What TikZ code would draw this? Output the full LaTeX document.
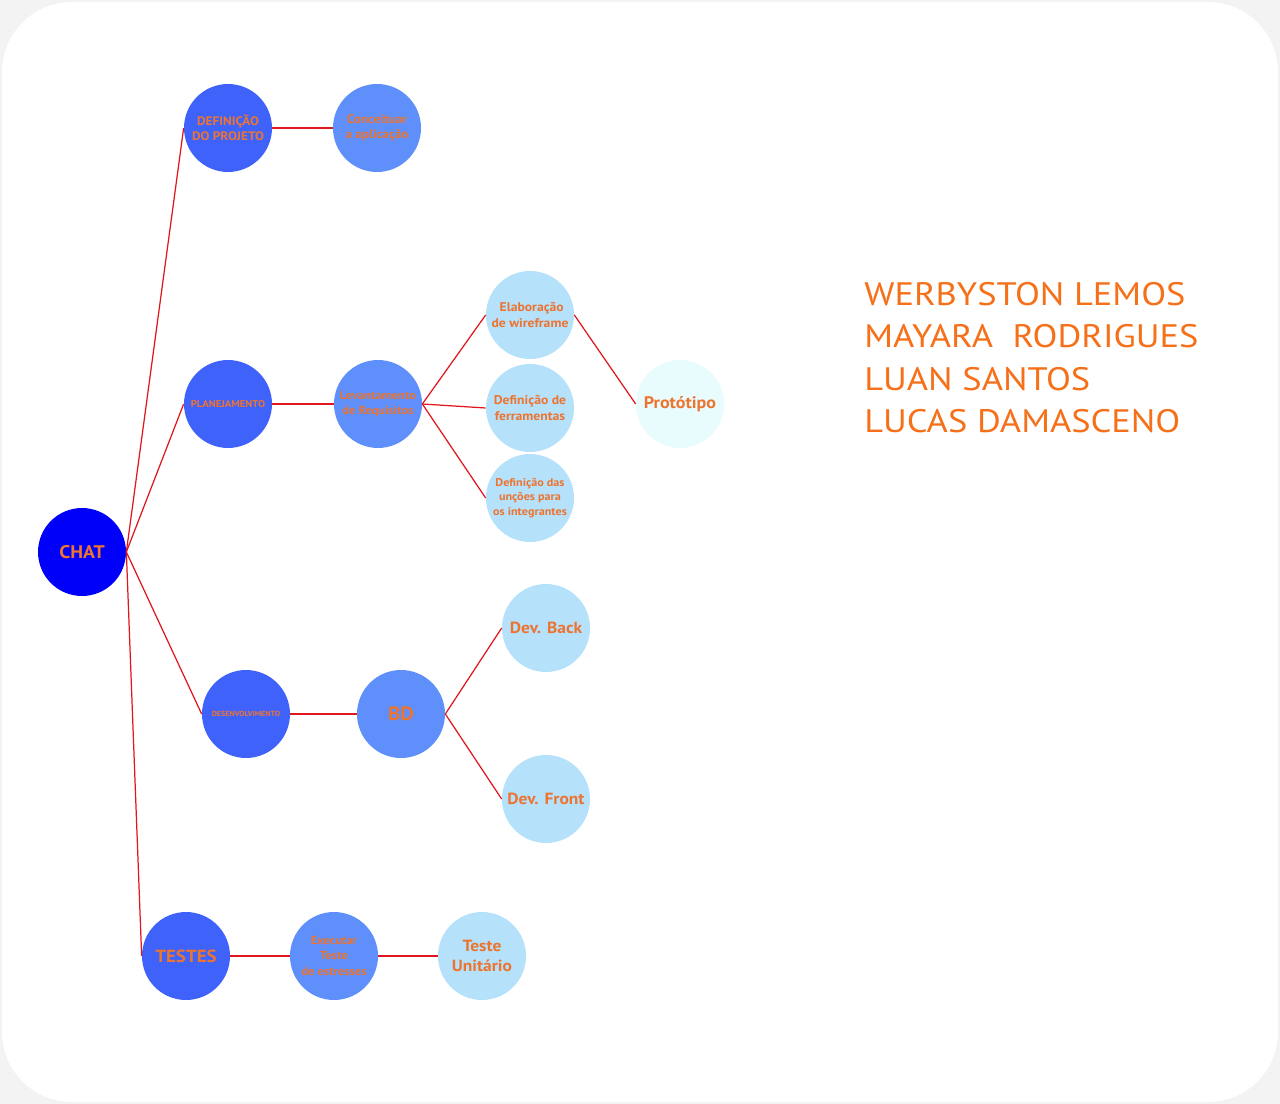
\documentclass[tikz,border=0pt]{standalone}
\usepackage{fontspec}
\setmainfont[FakeStretch=1.08]{PT Sans}
\newfontfamily\namefont[FakeStretch=1.12]{PT Sans}
\definecolor{bggray}{HTML}{F3F3F3}
\definecolor{cchat}{HTML}{0000FA}
\definecolor{cone}{HTML}{3F62FB}
\definecolor{ctwo}{HTML}{5E8FFB}
\definecolor{cthree}{HTML}{B5E1FB}
\definecolor{cfour}{HTML}{E9FCFD}
\definecolor{ctxt}{HTML}{EC7430}
\definecolor{cname}{HTML}{F57018}
\definecolor{cline}{HTML}{E0161E}
\tikzset{
  x=0.02cm, y=-0.02cm,
  bubble/.style={circle, minimum size=1.76cm, inner sep=0pt, text=ctxt, align=center},
  lvzero/.style={bubble, fill=cchat},
  lvone/.style={bubble, fill=cone},
  lvtwo/.style={bubble, fill=ctwo},
  lvthree/.style={bubble, fill=cthree},
  lvfour/.style={bubble, fill=cfour},
  link/.style={draw=cline, line width=0.7pt},
}
\newcommand{\bsize}[2]{\bfseries\fontsize{#1}{#2}\selectfont}
\begin{document}
\begin{tikzpicture}
\useasboundingbox (0,0) rectangle (1280,1104);
\fill[bggray] (0,0) rectangle (1280,1104);
\fill[white, rounded corners=1.4cm] (2,2) rectangle (1278,1102);

\node[lvzero, font=\bsize{10.4pt}{12pt}] (chat) at (82,552) {CHAT};

\node[lvone, font=\bsize{7pt}{8.5pt}] (def) at (228,128) {DEFINIÇÃO\\DO PROJETO};
\node[lvtwo, font=\bsize{7pt}{8.5pt}] (conc) at (377,128) {Conceituar\\a aplicação};

\node[lvone, font=\bsize{5.6pt}{7pt}] (plan) at (228,404) {PLANEJAMENTO};
\node[lvtwo, font=\bsize{6.6pt}{8.3pt}] (lev) at (378,404) {Levantamento\\de Requisitos};
\node[lvthree, font=\bsize{7.2pt}{8.6pt}] (elab) at (530,315) {\ Elaboração\\de wireframe};
\node[lvthree, font=\bsize{7.2pt}{8.8pt}] (ferr) at (530,408) {Definição de\\ferramentas};
\node[lvthree, font=\bsize{6.4pt}{8.2pt}] (func) at (530,498) {Definição das\\unções para\\os integrantes};
\node[lvfour, font=\bsize{9.5pt}{11pt}] (prot) at (680,404) {Protótipo};

\node[lvone, font=\bsize{4.2pt}{5pt}] (desen) at (246,714) {DESENVOLVIMENTO};
\node[lvtwo, font=\bsize{11pt}{13pt}] (bd) at (401,714) {BD};
\node[lvthree, font=\bsize{9.2pt}{11pt}] (back) at (546,628) {Dev. Back};
\node[lvthree, font=\bsize{9.2pt}{11pt}] (front) at (546,799) {Dev. Front};

\node[lvone, font=\bsize{10pt}{12pt}] (test) at (186,956) {TESTES};
\node[lvtwo, font=\bsize{6.6pt}{8.6pt}] (exec) at (334,956) {Executar\\Teste\\de estresses};
\node[lvthree, font=\bsize{9.2pt}{11.5pt}] (unit) at (482,956) {Teste\\Unitário};

\draw[link] (chat.east) -- (def.west);
\draw[link] (chat.east) -- (plan.west);
\draw[link] (chat.east) -- (desen.west);
\draw[link] (chat.east) -- (test.west);
\draw[link] (def.east) -- (conc.west);
\draw[link] (plan.east) -- (lev.west);
\draw[link] (lev.east) -- (elab.west);
\draw[link] (lev.east) -- (ferr.west);
\draw[link] (lev.east) -- (func.west);
\draw[link] (elab.east) -- (prot.west);
\draw[link] (desen.east) -- (bd.west);
\draw[link] (bd.east) -- (back.west);
\draw[link] (bd.east) -- (front.west);
\draw[link] (test.east) -- (exec.west);
\draw[link] (exec.east) -- (unit.west);

\node[anchor=north west, inner sep=0pt, text=cname, align=left, font=\namefont\fontsize{18.5pt}{24.1pt}\selectfont] (names) at (864,282)
  {WERBYSTON LEMOS\\MAYARA\ \ RODRIGUES\\LUAN SANTOS\\LUCAS DAMASCENO};
\end{tikzpicture}
\end{document}
